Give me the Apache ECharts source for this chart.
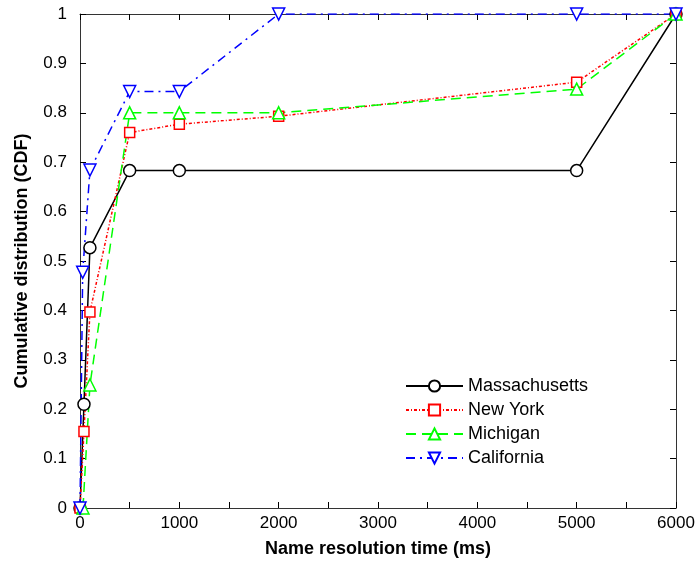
<!DOCTYPE html>
<html><head><meta charset="utf-8">
<script src="https://cdn.jsdelivr.net/npm/echarts@6/dist/echarts.min.js"></script>
<style>html,body{margin:0;padding:0;background:#fff}#c{width:698px;height:563px}</style>
</head><body><div id="c"></div>
<script>
var massachusetts = [[0,0],[40,0.21],[100,0.527],[500,0.683],[1000,0.683],[5000,0.683],[6000,1]];
var newYork = [[0,0],[40,0.155],[100,0.397],[500,0.76],[1000,0.777],[2000,0.793],[5000,0.862],[6000,1]];
var michigan = [[30,0],[100,0.249],[500,0.8],[1000,0.8],[2000,0.8],[5000,0.848],[6000,1]];
var california = [[0,0],[27,0.477],[100,0.684],[500,0.843],[1000,0.843],[2000,1],[5000,1],[6000,1]];
var xTicks = [0,1000,2000,3000,4000,5000,6000];
var yTicks = [0,0.1,0.2,0.3,0.4,0.5,0.6,0.7,0.8,0.9,1];

var font = 'Liberation Sans, Arial, Helvetica, sans-serif';
var chart = echarts.init(document.getElementById('c'));
function mk(name, data, color, symbol, size, dash, w){
  return {name:name, type:'line', data:data, symbol:symbol, symbolSize:size,
    lineStyle:{color:color, width:w||1.5, type:dash},
    itemStyle:{color:'#fff', borderColor:color, borderWidth:1.5},
    emphasis:{disabled:true}, animation:false};
}
function tick(){ return {show:true, inside:true, length:6, lineStyle:{color:'#000', width:1}}; }
function minor(){ return {show:true, splitNumber:2, length:6, lineStyle:{color:'#000', width:1}}; }
function line(){ return {show:true, onZero:false, lineStyle:{color:'#333', width:1}}; }
chart.setOption({
  backgroundColor:'#fff',
  animation:false,
  grid:{left:80,right:22,top:14,bottom:53},
  legend:{orient:'vertical', left:400, top:372, itemWidth:57, itemHeight:14, itemGap:6,
    textStyle:{fontFamily:font, fontSize:18, color:'#000'},
    data:['Massachusetts','New York','Michigan','California']},
  xAxis:[{type:'value', min:0, max:6000, interval:1000,
    name:'Name resolution time (ms)', nameLocation:'middle', nameGap:32,
    nameTextStyle:{fontFamily:font, fontSize:18, fontWeight:'bold', color:'#000'},
    axisLine:line(), axisTick:tick(), minorTick:minor(),
    axisLabel:{fontFamily:font, fontSize:17, color:'#000', margin:7,
      formatter:function(v){return xTicks.indexOf(v)>=0?String(v):'';}},
    splitLine:{show:false}},
   {type:'value', position:'top', min:0, max:6000, interval:1000,
    axisLine:line(), axisTick:tick(), minorTick:minor(),
    axisLabel:{show:false}, splitLine:{show:false}}],
  yAxis:[{type:'value', min:0, max:1, interval:0.1,
    name:'Cumulative distribution (CDF)', nameLocation:'middle', nameGap:49,
    nameTextStyle:{fontFamily:font, fontSize:18, fontWeight:'bold', color:'#000'},
    axisLine:line(), axisTick:tick(),
    axisLabel:{fontFamily:font, fontSize:17, color:'#000', margin:13,
      formatter:function(v){var r=Math.round(v*10)/10; return yTicks.indexOf(r)>=0?String(r):'';}},
    splitLine:{show:false}},
   {type:'value', position:'right', min:0, max:1, interval:0.1,
    axisLine:line(), axisTick:tick(),
    axisLabel:{show:false}, splitLine:{show:false}}],
  series:[
    mk('Massachusetts', massachusetts, '#000000', 'circle', 12, 'solid', 1.5),
    mk('New York', newYork, '#ff0000', 'rect', 10, [3,2,1,2], 1.5),
    mk('Michigan', michigan, '#00ff00', 'triangle', 12, [10,6], 1.5),
    mk('California', california, '#0000ff', 'path://M0,0 L10,0 L5,10 Z', 12, [9,5,2,5], 1.5)
  ]
});
</script></body></html>
